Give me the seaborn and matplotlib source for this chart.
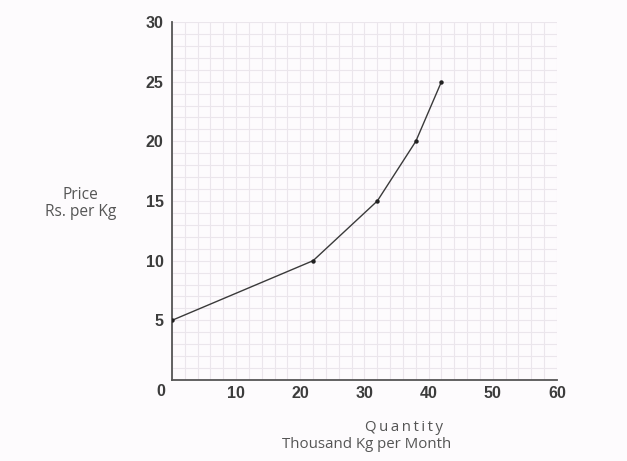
import numpy as np
import pandas as pd
import matplotlib
matplotlib.use("Agg")
import matplotlib.pyplot as plt
from matplotlib.ticker import MultipleLocator, FixedLocator
import seaborn as sns

# Supply schedule: quantity (thousand kg per month) against price (Rs. per kg)
quantity = [0, 22, 32, 38, 42]
price = [5, 10, 15, 20, 25]

x_ticks = [10, 20, 30, 40, 50, 60]
y_ticks = [5, 10, 15, 20, 25, 30]

df = pd.DataFrame({"Quantity": quantity, "Price": price})

sns.set_theme(style="white")
plt.rcParams["font.family"] = ["Liberation Sans", "DejaVu Sans"]

bg = "#fdfbfd"
fig = plt.figure(figsize=(6.27, 4.61), dpi=100, facecolor=bg)
ax = fig.add_axes([0.2743, 0.1757, 0.6140, 0.7766], facecolor=bg)

ax.set_xlim(0, 60)
ax.set_ylim(0, 30)

# fine graph-paper grid
ax.xaxis.set_minor_locator(MultipleLocator(2))
ax.yaxis.set_minor_locator(MultipleLocator(1))
ax.xaxis.set_major_locator(FixedLocator(x_ticks))
ax.yaxis.set_major_locator(FixedLocator(y_ticks))
ax.grid(True, which="both", color="#ebe6ec", linewidth=0.8)
ax.set_axisbelow(True)

sns.lineplot(data=df, x="Quantity", y="Price", ax=ax, color="#3a3a3a",
             linewidth=1.0, marker="o", markersize=3.2,
             markeredgewidth=0, markerfacecolor="#222222", zorder=5)

for side in ("top", "right"):
    ax.spines[side].set_visible(False)
for side in ("left", "bottom"):
    ax.spines[side].set_color("#555555")
    ax.spines[side].set_linewidth(1.3)

ax.tick_params(which="major", direction="in", length=9, width=1.2,
               color="#555555", labelsize=11.5, labelcolor="#3c3c3c", pad=6)
ax.tick_params(axis="x", which="major", pad=4)
ax.tick_params(which="minor", length=0)
ax.set_xticklabels([str(v) for v in x_ticks])
ax.set_yticklabels([str(v) for v in y_ticks])
for lbl in ax.get_xticklabels() + ax.get_yticklabels():
    lbl.set_fontweight("bold")

# origin label sits diagonally off the corner
ax.text(-1.8, -1.0, "0", ha="center", va="center", fontsize=11.5,
        fontweight="bold", color="#3c3c3c", clip_on=False)

ax.set_xlabel("")
ax.set_ylabel("")
label_style = dict(ha="center", va="center", color="#555555",
                   family=["Open Sans", "DejaVu Sans"])
fig.text(0.645, 0.072, "\u2009".join("Quantity"), fontsize=10.8, **label_style)
fig.text(0.584, 0.035, "Thousand Kg per Month", fontsize=10.8, **label_style)
fig.text(0.128, 0.578, "Price", fontsize=11.2, **label_style)
fig.text(0.128, 0.540, "Rs. per Kg", fontsize=11.2, **label_style)

fig.savefig("out.png", dpi=100, facecolor=bg)
